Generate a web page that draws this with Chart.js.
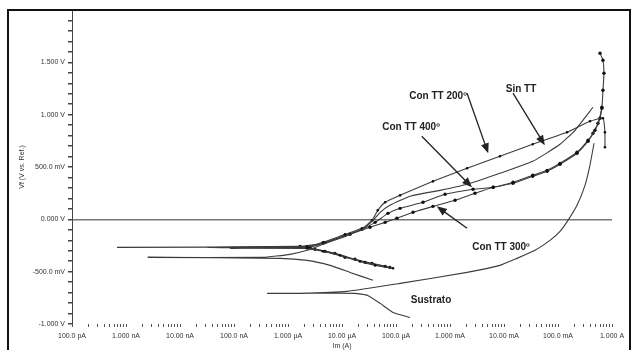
<!DOCTYPE html>
<html>
<head>
<meta charset="utf-8">
<script src="https://cdn.jsdelivr.net/npm/chart.js@4.4.1/dist/chart.umd.min.js"></script>
<style>
  html, body { margin: 0; padding: 0; background: #fff; }
  #wrap { width: 633px; height: 350px; }
</style>
</head>
<body>
<div id="wrap"><canvas id="chart" width="633" height="350"></canvas></div>
<script>
// Tick labels
const currentLabels = ['100.0 pA', '1.000 nA', '10.00 nA', '100.0 nA', '1.000 µA', '10.00 µA',
    '100.0 µA', '1.000 mA', '10.00 mA', '100.0 mA', '1.000 A'];
const voltValues = [-1, -0.5, 0, 0.5, 1, 1.5];
const voltLabels = ['-1.000 V', '-500.0 mV', '0.000 V', '500.0 mV', '1.000 V', '1.500 V'];

// Curves: current (A) and potential (V), cathodic branch first then anodic
const sinTT_I = [3.75e-5, 1.41e-5, 6.0e-6, 2.25e-6, 7.1e-7, 2.55e-9,
    3.4e-7, 1.09e-6, 2.25e-6, 4.45e-6, 1.14e-5, 2.34e-5, 3.6e-5, 5.1e-5, 7.7e-5, 1.82e-4, 6.5e-4,
    2.07e-3, 8.4e-3, 3.4e-2, 0.109, 0.207, 0.445];
const sinTT_V = [-0.583, -0.507, -0.440, -0.392, -0.373, -0.363,
    -0.363, -0.335, -0.296, -0.239, -0.163, -0.096, -0.019, 0.067, 0.134, 0.220, 0.277,
    0.335, 0.440, 0.554, 0.717, 0.851, 1.071];

const tt200_I = [8.8e-5, 4.1e-5, 2.15e-5, 9.2e-6, 4.45e-6, 2.25e-6, 3.2e-8,
    2.25e-6, 4.45e-6, 1.14e-5, 2.34e-5, 3.6e-5, 4.6e-5, 6.3e-5, 1.19e-4,
    4.84e-4, 2.07e-3, 8.4e-3, 3.4e-2, 0.147, 0.39, 0.68, 0.74, 0.74];
const tt200_V = [-0.468, -0.440, -0.402, -0.344, -0.306, -0.277, -0.268,
    -0.258, -0.220, -0.143, -0.086, -0.010, 0.086, 0.163, 0.229,
    0.363, 0.488, 0.602, 0.717, 0.832, 0.937, 0.966, 0.832, 0.688];

const tt300_I = [6.3e-5, 2.67e-5, 1.14e-5, 4.84e-6, 2.55e-6, 8.4e-8,
    2.55e-6, 4.84e-6, 1.41e-5, 3.3e-5, 6.3e-5, 1.04e-4, 2.07e-4, 4.84e-4, 1.24e-3, 2.9e-3,
    6.3e-3, 1.47e-2, 3.4e-2, 6.3e-2, 0.109, 0.225, 0.36, 0.484, 0.60, 0.65];
const tt300_V = [-0.449, -0.411, -0.363, -0.306, -0.277, -0.277,
    -0.268, -0.220, -0.143, -0.076, -0.029, 0.010, 0.067, 0.124, 0.182, 0.249,
    0.306, 0.344, 0.411, 0.459, 0.526, 0.631, 0.746, 0.851, 0.966, 1.061];

const tt400_I = [7.7e-5, 3.6e-5, 1.74e-5, 7.4e-6, 3.16e-6, 1.67e-6, 6.8e-10,
    1.67e-6, 4.45e-6, 1.14e-5, 2.34e-5, 4.1e-5, 7.1e-5, 1.19e-4, 3.16e-4, 8.1e-4, 2.67e-3,
    6.3e-3, 1.47e-2, 3.4e-2, 6.3e-2, 0.109, 0.225, 0.36, 0.445, 0.55, 0.65, 0.68, 0.71, 0.68, 0.60];
const tt400_V = [-0.459, -0.421, -0.382, -0.325, -0.287, -0.268, -0.268,
    -0.258, -0.229, -0.153, -0.096, -0.029, 0.057, 0.105, 0.163, 0.239, 0.287,
    0.306, 0.354, 0.421, 0.468, 0.535, 0.641, 0.755, 0.822, 0.918, 1.071, 1.233, 1.396, 1.520, 1.587];

const sustrato_I = [1.82e-4, 8.8e-5, 5.1e-5, 3.0e-5, 1.74e-5, 1.67e-6, 4.1e-7,
    1.67e-6, 1.24e-5, 1.19e-4, 2.07e-3, 8.4e-3, 1.74e-2, 3.75e-2, 7.1e-2, 0.109, 0.153,
    0.225, 0.316, 0.39, 0.465];
const sustrato_V = [-0.937, -0.889, -0.803, -0.727, -0.707, -0.707, -0.707,
    -0.707, -0.688, -0.612, -0.507, -0.440, -0.373, -0.296, -0.201, -0.115, -0.010,
    0.134, 0.325, 0.516, 0.727];

// Curve labels with arrows (data coordinates)
const notes = [
    { text: 'Con TT 200º', at: [6.0e-4, 1.176], from: [2.07e-3, 1.205], to: [5.1e-3, 0.631] },
    { text: 'Sin TT', at: [2.07e-2, 1.243], from: [1.47e-2, 1.205], to: [5.7e-2, 0.707] },
    { text: 'Con TT 400º', at: [1.9e-4, 0.880], from: [3.0e-4, 0.794], to: [2.55e-3, 0.306] },
    { text: 'Con TT 300º', at: [8.8e-3, -0.268], from: [2.07e-3, -0.086], to: [5.7e-4, 0.124] },
    { text: 'Sustrato', at: [4.45e-4, -0.774] }
];

const FONT = "'Liberation Sans', Arial, sans-serif";

function toPoints(xs, ys) {
    return xs.map((x, i) => ({ x: x, y: ys[i] }));
}

function curve(label, xs, ys, radius) {
    const minX = Math.min(...xs);
    return {
        label: label,
        data: toPoints(xs, ys),
        showLine: true,
        borderColor: '#3c3c3c',
        borderWidth: 1.1,
        tension: 0.15,
        // no dot at the far end of the corrosion-potential spike
        pointRadius: c => (c.raw && c.raw.x === minX) ? 0 : radius,
        pointBackgroundColor: '#111',
        pointBorderColor: '#111',
        pointBorderWidth: 0
    };
}

// Tick positions: 1..9 per decade on the current axis
const currentTicks = [];
for (let e = -10; e <= 0; e++) {
    for (let m = 1; m <= (e === 0 ? 1 : 9); m++) currentTicks.push(m * Math.pow(10, e));
}
const voltTicks = [];
for (let k = -10; k <= 20; k++) voltTicks.push(k / 10);

const notesPlugin = {
    id: 'notes',
    afterDatasetsDraw(chart) {
        const ctx = chart.ctx;
        const xs = chart.scales.x, ys = chart.scales.y;
        ctx.save();
        ctx.font = 'bold 10px ' + FONT;
        ctx.fillStyle = '#222';
        ctx.strokeStyle = '#222';
        ctx.textAlign = 'center';
        ctx.textBaseline = 'middle';
        notes.forEach(n => {
            ctx.fillText(n.text, xs.getPixelForValue(n.at[0]), ys.getPixelForValue(n.at[1]));
            if (!n.from) return;
            const x1 = xs.getPixelForValue(n.from[0]), y1 = ys.getPixelForValue(n.from[1]);
            const x2 = xs.getPixelForValue(n.to[0]), y2 = ys.getPixelForValue(n.to[1]);
            const a = Math.atan2(y2 - y1, x2 - x1);
            ctx.lineWidth = 1.3;
            ctx.beginPath();
            ctx.moveTo(x1, y1);
            ctx.lineTo(x2 - 6 * Math.cos(a), y2 - 6 * Math.sin(a));
            ctx.stroke();
            ctx.beginPath();
            ctx.moveTo(x2, y2);
            ctx.lineTo(x2 - 10 * Math.cos(a) + 4 * Math.sin(a), y2 - 10 * Math.sin(a) - 4 * Math.cos(a));
            ctx.lineTo(x2 - 10 * Math.cos(a) - 4 * Math.sin(a), y2 - 10 * Math.sin(a) + 4 * Math.cos(a));
            ctx.closePath();
            ctx.fill();
        });
        ctx.restore();
    },
    afterDraw(chart) {
        // outer frame of the figure
        const ctx = chart.ctx;
        ctx.save();
        ctx.strokeStyle = '#111';
        ctx.lineWidth = 2;
        ctx.strokeRect(8, 10, 622, 350);
        ctx.restore();
    }
};

new Chart(document.getElementById('chart').getContext('2d'), {
    type: 'scatter',
    data: {
        datasets: [
            curve('Sin TT', sinTT_I, sinTT_V, 0),
            curve('Con TT 200º', tt200_I, tt200_V, 1.3),
            curve('Con TT 300º', tt300_I, tt300_V, 1.7),
            curve('Con TT 400º', tt400_I, tt400_V, 1.7),
            curve('Sustrato', sustrato_I, sustrato_V, 0)
        ]
    },
    options: {
        responsive: false,
        animation: false,
        layout: { padding: { left: 0, right: 21, top: 10, bottom: 0 } },
        plugins: {
            legend: { display: false },
            tooltip: { enabled: false }
        },
        scales: {
            x: {
                type: 'logarithmic',
                min: 1e-10,
                max: 1,
                afterBuildTicks: s => { s.ticks = currentTicks.map(v => ({ value: v })); },
                afterFit: s => { s.height = 26; },
                border: { display: false },
                grid: {
                    drawOnChartArea: false,
                    drawTicks: true,
                    tickLength: 3,
                    tickColor: '#555',
                    tickWidth: 1
                },
                ticks: {
                    autoSkip: false,
                    maxRotation: 0,
                    minRotation: 0,
                    padding: 5,
                    color: '#333',
                    font: { size: 7, family: FONT },
                    callback: v => {
                        const e = Math.log10(v);
                        return Math.abs(e - Math.round(e)) < 1e-6 ? currentLabels[Math.round(e) + 10] : '';
                    }
                },
                title: {
                    display: true,
                    text: 'Im (A)',
                    color: '#333',
                    font: { size: 7, family: FONT },
                    padding: 0
                }
            },
            y: {
                min: -1,
                max: 2,
                afterBuildTicks: s => { s.ticks = voltTicks.map(v => ({ value: v })); },
                afterFit: s => { s.width = 72; },
                border: { display: true, color: '#444', width: 1 },
                grid: {
                    drawOnChartArea: true,
                    drawTicks: true,
                    tickLength: 4,
                    tickColor: '#444',
                    lineWidth: 1.5,
                    color: c => (c.tick && Math.abs(c.tick.value) < 1e-9) ? '#777' : 'rgba(0,0,0,0)'
                },
                ticks: {
                    autoSkip: false,
                    padding: 3,
                    color: '#333',
                    font: { size: 7, family: FONT },
                    callback: v => {
                        const i = voltValues.findIndex(t => Math.abs(t - v) < 1e-6);
                        return i >= 0 ? voltLabels[i] : '';
                    }
                },
                title: {
                    display: true,
                    text: 'Vf (V vs. Ref.)',
                    color: '#333',
                    font: { size: 7, family: FONT },
                    padding: { top: 18, bottom: 0 }
                }
            }
        }
    },
    plugins: [notesPlugin]
});
</script>
</body>
</html>
